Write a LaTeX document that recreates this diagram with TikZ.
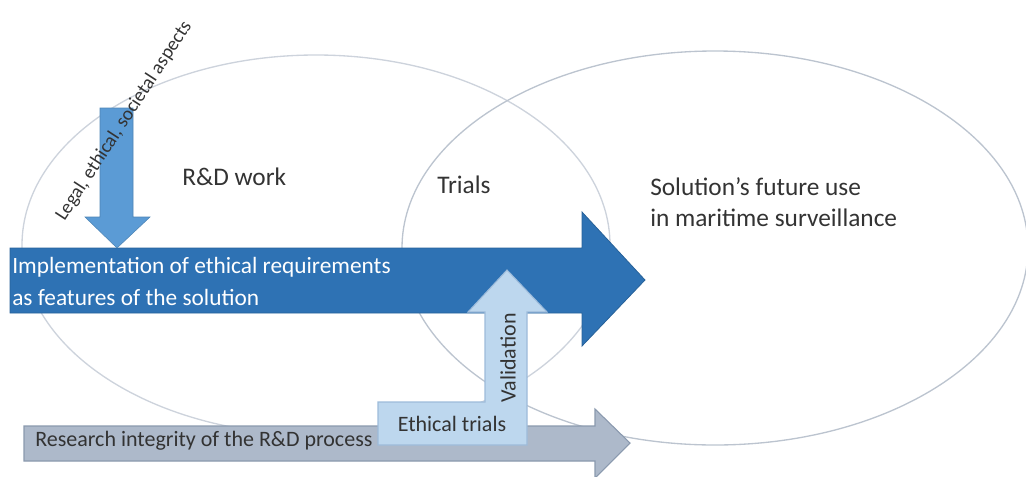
\documentclass[tikz,border=0pt]{standalone}
\usepackage{fontspec}
\setmainfont{Carlito}
\definecolor{ringgrey}{HTML}{BCC4CF}
\definecolor{ringlight}{HTML}{CDD3DC}
\definecolor{textgrey}{HTML}{333333}
\definecolor{mainblue}{HTML}{2E72B4}
\definecolor{downblue}{HTML}{5B9BD5}
\definecolor{paleblue}{HTML}{BDD7EE}
\definecolor{paleedge}{HTML}{9DBBDA}
\definecolor{slate}{HTML}{ADB9CA}
\definecolor{slateedge}{HTML}{8A99AE}

\begin{document}
\begin{tikzpicture}[x=0.75pt,y=-0.75pt,
    ring/.style={draw=ringgrey,line width=1pt},
    lbl/.style={text=textgrey,inner sep=0pt,font=\fontsize{19}{23}\selectfont},
    inlbl/.style={inner sep=0pt,font=\fontsize{16.5}{20}\selectfont}]

    % 0. 画布大小与原图一致 (像素坐标, y 向下)
    \useasboundingbox (0,0) rectangle (1026,476);

    % 1. 两个椭圆: R&D 工作与未来使用
    \draw[ring,draw=ringlight] (316,245) ellipse [x radius=294, y radius=190];
    \draw[ring] (715,248) ellipse [x radius=313, y radius=197];

    % 2. 主蓝色箭头: 伦理要求的实现
    \filldraw[fill=mainblue,draw=mainblue!85!black,line width=0.6pt]
      (10,248) -- (582,248) -- (582,212) -- (645,280) -- (582,346)
      -- (582,313) -- (10,313) -- cycle;

    % 3. 向下的浅蓝箭头 (法律, 伦理, 社会因素)
    \filldraw[fill=downblue,draw=downblue!85!black,line width=0.4pt]
      (100,108) -- (133,108) -- (133,217) -- (150,217) -- (117,248)
      -- (85,217) -- (100,217) -- cycle;

    % 4. 底部灰色箭头: 研究诚信
    \filldraw[fill=slate,draw=slateedge,line width=0.8pt]
      (24,426) -- (595,426) -- (595,409) -- (630,443) -- (595,478)
      -- (595,461) -- (24,461) -- cycle;

    % 5. L 形验证箭头 (伦理试验 -> 验证)
    \filldraw[fill=paleblue,draw=paleedge,line width=0.8pt]
      (378,402) -- (485,402) -- (485,312) -- (468,312) -- (507,270)
      -- (547,312) -- (527,312) -- (527,445) -- (378,445) -- cycle;

    % 6. 文字标注
    \node[lbl,anchor=west] (rd) at (182,177) {R\&D work};
    \node[lbl,anchor=west] (trials) at (437,185) {Trials};
    \node[lbl,anchor=west,align=left] (future) at (650,202)
      {Solution’s future use\\in maritime surveillance};

    \node[inlbl,anchor=west,align=left,text=white,
      font=\fontsize{17.5}{24}\selectfont] (impl) at (12,281)
      {Implementation of ethical requirements\\as features of the solution};
    \node[inlbl,anchor=west,text=textgrey] (integrity) at (35,441)
      {Research integrity of the R\&D process};
    \node[inlbl,text=textgrey] (ethtrials) at (452,424) {Ethical trials};
    \node[inlbl,text=textgrey,rotate=90] (valid) at (508,358) {Validation};

    % 斜向的文字
    \node[inlbl,text=textgrey,rotate=57,font=\fontsize{14.5}{17}\selectfont]
      (legal) at (124,121) {Legal, ethical, societal aspects};

  \end{tikzpicture}
\end{document}
